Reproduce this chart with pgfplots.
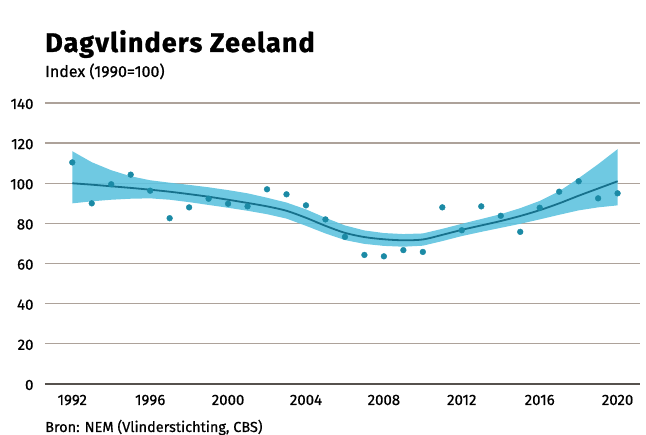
\documentclass[border=0pt]{standalone}
\usepackage{pgfplots}
\pgfplotsset{compat=1.18}
\usepackage{fontspec}
\setmainfont{Fira Sans}
\definecolor{bandc}{HTML}{5FC3DF}
\definecolor{linec}{HTML}{17718C}
\definecolor{dotc}{HTML}{1B8AA5}
\definecolor{gridc}{HTML}{ADA29A}

\pgfplotstableread{
year idx
1992 110.4
1993 90
1994 99.5
1995 104.3
1996 96.3
1997 82.6
1998 88
1999 92.3
2000 89.8
2001 88.5
2002 97
2003 94.5
2004 89
2005 82
2006 73.3
2007 64.3
2008 63.6
2009 66.7
2010 65.8
2011 88
2012 76.6
2013 88.5
2014 83.8
2015 75.8
2016 87.8
2017 95.8
2018 101
2019 92.5
2020 95
}\obs

\pgfplotstableread{
year trend
1992 100
1993 99.3
1994 98.5
1995 97.7
1996 96.8
1997 95.8
1998 94.6
1999 93.3
2000 91.8
2001 90.2
2002 88.5
2003 86.3
2004 82.8
2005 78.8
2006 75.3
2007 73.2
2008 72.1
2009 71.6
2010 72
2011 74.3
2012 76.8
2013 79
2014 81.2
2015 83.7
2016 86.6
2017 90
2018 93.8
2019 97.4
2020 101
}\fit

% confidence band: upper edge forward, lower edge back
\pgfplotstableread{
year v
1992 116
1993 110.5
1994 106.5
1995 103.5
1996 101.5
1997 100.3
1998 99.2
1999 98
2000 96.6
2001 95
2002 92.8
2003 90.4
2004 87
2005 82.8
2006 79
2007 76.5
2008 75.2
2009 74.7
2010 75
2011 77.3
2012 79.8
2013 82.2
2014 84.6
2015 87.6
2016 91.2
2017 96
2018 102.5
2019 109.5
2020 117
2020 89
2019 88
2018 86.5
2017 84.3
2016 82
2015 79.8
2014 77.8
2013 75.8
2012 73.7
2011 71.2
2010 68.9
2009 68.4
2008 68.8
2007 69.8
2006 71.7
2005 75
2004 78.8
2003 82.4
2002 84.6
2001 86.3
2000 87.8
1999 89.2
1998 90.6
1997 91.8
1996 92.5
1995 92.3
1994 91.8
1993 91
1992 90
}\band

\begin{document}
\begin{tikzpicture}
\path[use as bounding box] (0pt,0pt) rectangle (646pt,435pt);
\begin{axis}[
    at={(45pt,51pt)}, anchor=south west,
    scale only axis,
    width=595pt, height=281pt,
    xmin=1990.6, xmax=2021.15,
    ymin=0, ymax=140,
    xtick={1992,1996,...,2020},
    ytick={0,20,...,140},
    x tick label style={/pgf/number format/1000 sep={}, anchor=base, yshift=-21pt,
        font=\fontsize{15}{15}\selectfont\addfontfeature{FakeBold=0.6}},
    y tick label style={anchor=base east, xshift=-8pt, yshift=-6pt,
        font=\fontsize{15}{15}\selectfont\addfontfeature{FakeBold=0.6}},
    /pgf/number format/assume math mode=true,
    axis line style={draw=none},
    major tick length=0pt,
    ymajorgrids,
    grid style={gridc, line width=1.3pt},
    clip=false,
]
\addplot[fill=bandc, draw=none, fill opacity=0.9] table[x=year, y=v] {\band};
\addplot[linec, line width=1.8pt, smooth] table[x=year, y=trend] {\fit};
\addplot[only marks, mark=*, mark size=2.9pt, dotc] table[x=year, y=idx] {\obs};
\draw[black!50!gridc, line width=1.4pt] (axis cs:1990.6,0) -- (axis cs:2021.15,0);
\end{axis}
\node[anchor=base west, font=\fontsize{27}{27}\selectfont\bfseries\addfontfeature{LetterSpace=4,FakeBold=1}, inner sep=0pt] at (45pt,383pt) {Dagvlinders Zeeland};
\node[anchor=base west, font=\fontsize{16}{16}\selectfont\addfontfeature{FakeBold=0.7}, inner sep=0pt] at (45pt,358pt) {Index (1990=100)};
\node[anchor=base west, font=\fontsize{14.5}{14.5}\selectfont\addfontfeature{FakeBold=0.7}, inner sep=0pt] at (45pt,3pt) {Bron: NEM (Vlinderstichting, CBS)};
\end{tikzpicture}
\end{document}
